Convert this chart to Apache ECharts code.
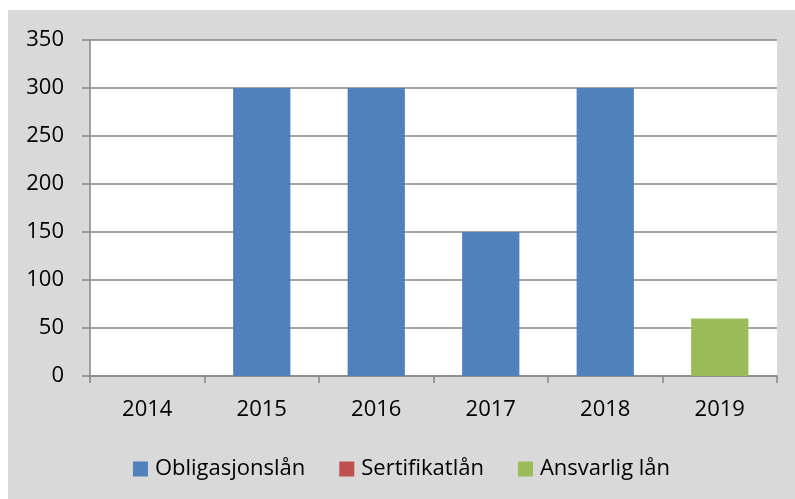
<!DOCTYPE html>
<html>
<head>
<meta charset="utf-8">
<script src="https://cdn.jsdelivr.net/npm/echarts@6/dist/echarts.min.js"></script>
<style>
  html, body { margin: 0; padding: 0; background: #fff; }
  #chart { position: absolute; left: 8px; top: 10px; width: 787px; height: 489px; background: #d9d9d9; }
</style>
</head>
<body>
<div id="chart"></div>
<script>
  var years = ['2014', '2015', '2016', '2017', '2018', '2019'];
  var obligasjonslan = [0, 300, 300, 150, 300, 0];
  var sertifikatlan = [0, 0, 0, 0, 0, 0];
  var ansvarligLan = [0, 0, 0, 0, 0, 60];

  var font = 'Open Sans';
  var axisColor = '#868686';

  var option = {
    backgroundColor: '#d9d9d9',
    animation: false,
    grid: {
      left: 82,
      top: 30,
      right: 18,
      bottom: 123,
      containLabel: false,
      show: true,
      backgroundColor: '#ffffff',
      borderWidth: 0
    },
    legend: {
      top: 443,
      left: 'center',
      itemWidth: 15,
      itemHeight: 15,
      itemGap: 34,
      icon: 'rect',
      textStyle: { fontFamily: font, fontSize: 22, color: '#000', padding: [0, 0, 0, 2] },
      data: ['Obligasjonslån', 'Sertifikatlån', 'Ansvarlig lån']
    },
    xAxis: {
      type: 'category',
      data: years,
      axisLine: { lineStyle: { color: axisColor, width: 1.5 } },
      axisTick: { show: true, length: 7, lineStyle: { color: axisColor, width: 1.5 } },
      axisLabel: { fontFamily: font, fontSize: 22, color: '#000', margin: 23 }
    },
    yAxis: {
      type: 'value',
      min: 0,
      max: 350,
      interval: 50,
      axisLine: { show: true, lineStyle: { color: axisColor, width: 1.5 } },
      axisTick: { show: true, length: 8, lineStyle: { color: axisColor, width: 1.5 } },
      splitLine: { lineStyle: { color: axisColor, width: 1.5 } },
      axisLabel: { fontFamily: font, fontSize: 22, color: '#000', margin: 26 }
    },
    series: [
      {
        name: 'Obligasjonslån',
        type: 'bar',
        stack: 'total',
        barWidth: '50%',
        itemStyle: { color: '#4f81bd' },
        data: obligasjonslan
      },
      {
        name: 'Sertifikatlån',
        type: 'bar',
        stack: 'total',
        barWidth: '50%',
        itemStyle: { color: '#c0504d' },
        data: sertifikatlan
      },
      {
        name: 'Ansvarlig lån',
        type: 'bar',
        stack: 'total',
        barWidth: '50%',
        itemStyle: { color: '#9bbb59' },
        data: ansvarligLan
      }
    ]
  };

  var myChart = echarts.init(document.getElementById('chart'));
  myChart.setOption(option, true);
</script>
</body>
</html>
